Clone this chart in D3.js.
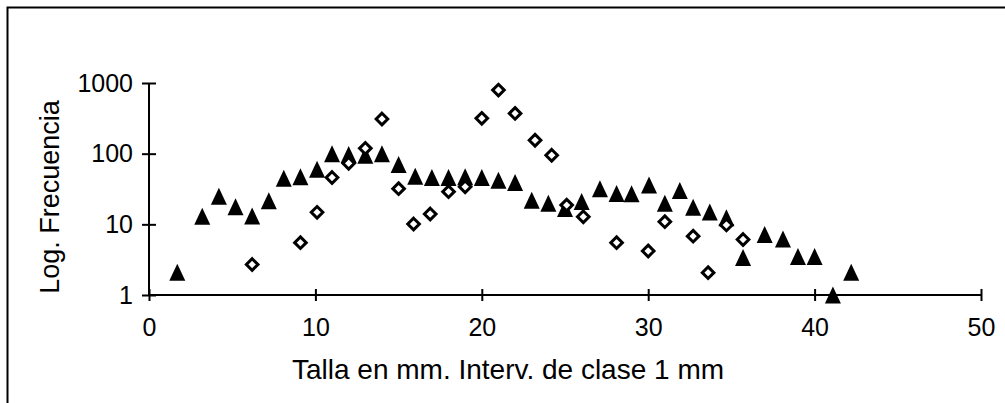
<!DOCTYPE html>
<html>
<head>
<meta charset="utf-8">
<script src="https://cdn.jsdelivr.net/npm/d3@7"></script>
<style>
  html, body { margin: 0; padding: 0; background: #fff; }
  svg { display: block; font-family: "Liberation Sans", Arial, sans-serif; }
  .axis path, .axis line { stroke: #000; stroke-width: 2; }
  .axis text { font-size: 25px; fill: #000; }
</style>
</head>
<body>
<svg id="chart" width="1005" height="403"></svg>
<script>
const TRIANGLE_X = [
  1.7, 3.2, 4.2, 5.2, 6.2, 7.2, 8.1, 9.1, 10.1, 11, 12, 13, 14, 15, 16, 17, 18, 19, 20, 21,
  22, 23, 24, 25, 26, 27.1, 28.1, 29, 30.05, 31, 31.9, 32.7, 33.7, 34.7, 35.7, 37, 38.1, 39, 40, 41.1, 42.2,
];
const TRIANGLE_Y = [
  2.1, 13, 25, 17.7, 13.1, 21.6, 45, 47, 60, 100, 97, 95, 100, 70, 48, 46, 46, 47, 46, 42,
  39, 22, 19.8, 16.8, 21, 32, 27.4, 27, 36, 19.8, 30, 17.4, 15, 12.4, 3.4, 7.2, 6.2, 3.5, 3.5, 1, 2.1,
];
const DIAMOND_X = [
  6.2, 9.1, 10.1, 11, 12, 13, 14, 15, 15.9, 16.9, 18, 19, 20, 21, 22, 23.2, 24.2, 25.1, 26.1,
  28.1, 30, 31, 32.7, 33.6, 34.7, 35.7,
];
const DIAMOND_Y = [
  2.7, 5.5, 14.8, 46, 73, 119, 309, 32, 10.1, 14, 29, 34, 316, 794, 371, 155, 95, 18.7, 12.8,
  5.5, 4.2, 10.9, 6.8, 2.07, 9.8, 6.1,
];
const X_TICKS = [0, 10, 20, 30, 40, 50];
const Y_TICKS = [1, 10, 100, 1000];
const X_TITLE = "Talla en mm. Interv. de clase 1 mm";
const Y_TITLE = "Log. Frecuencia";

const svg = d3.select("#chart");

// frame: only top and left edges are visible in the scan
svg.append("rect")
  .attr("x", 7.5).attr("y", 7.5)
  .attr("width", 1100).attr("height", 500)
  .attr("fill", "none").attr("stroke", "#000").attr("stroke-width", 2);

const x = d3.scaleLinear().domain([0, 50]).range([149, 981]);
const y = d3.scaleLog().domain([1, 1000]).range([295, 83]);

const xAxis = svg.append("g")
  .attr("class", "axis")
  .attr("transform", `translate(0,${y(1)})`)
  .call(d3.axisBottom(x).tickValues(X_TICKS).tickFormat(d3.format("d")).tickSize(6).tickPadding(17));
xAxis.selectAll(".tick line").attr("y1", -6);
xAxis.select(".domain").attr("d", `M${x(0)},0H${x(50)}`);

const yAxis = svg.append("g")
  .attr("class", "axis")
  .attr("transform", `translate(${x(0)},0)`)
  .call(d3.axisLeft(y).tickValues(Y_TICKS).tickFormat(d3.format("d")).tickSize(7).tickPadding(9));
yAxis.selectAll(".tick line").attr("x1", 7);
yAxis.select(".domain").attr("d", `M0,${y(1000)}V${y(1)}`);

const triangles = TRIANGLE_X.map((v, i) => ({ x: v, y: TRIANGLE_Y[i] }));
const diamonds = DIAMOND_X.map((v, i) => ({ x: v, y: DIAMOND_Y[i] }));

svg.append("g")
  .selectAll("path")
  .data(triangles)
  .join("path")
  .attr("transform", (d) => `translate(${x(d.x)},${y(d.y)})`)
  .attr("d", "M0,-8.5L8,8.5L-8,8.5Z")
  .attr("fill", "#000");

svg.append("g")
  .selectAll("path")
  .data(diamonds)
  .join("path")
  .attr("transform", (d) => `translate(${x(d.x)},${y(d.y)})`)
  .attr("d", "M0,-5.8L5.8,0L0,5.8L-5.8,0Z")
  .attr("fill", "#fff")
  .attr("stroke", "#000")
  .attr("stroke-width", 3);

svg.append("text")
  .attr("x", 508).attr("y", 379)
  .attr("text-anchor", "middle")
  .attr("font-size", 28)
  .text(X_TITLE);

svg.append("text")
  .attr("transform", "translate(59,197) rotate(-90)")
  .attr("text-anchor", "middle")
  .attr("font-size", 27)
  .text(Y_TITLE);
</script>
</body>
</html>
